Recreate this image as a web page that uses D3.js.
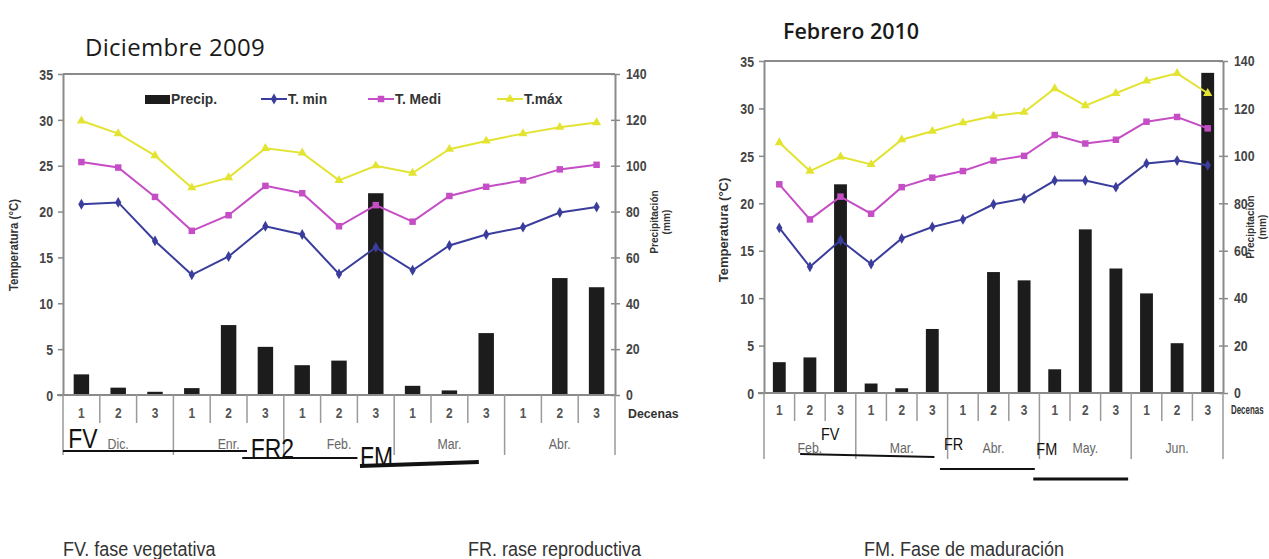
<!DOCTYPE html>
<meta charset="utf-8">
<style>
body { margin: 0; padding: 0; background: #fff; }
svg { display: block; }
.tick text { font-family: "Liberation Sans", Arial, sans-serif; font-weight: bold; fill: #444; font-size: 15px; }
.tick line { stroke: #8a8a8a; stroke-width: 1.5px; }
.domain { stroke: #8a8a8a; stroke-width: 2px; }
.frame { stroke: #8a8a8a; stroke-width: 2px; fill: none; }
.sep { stroke: #9a9a9a; stroke-width: 1.5px; }
.narrow { font-family: "Liberation Sans", Arial, sans-serif; }
.bar { fill: #1c1c1c; }
.serie { fill: none; stroke-width: 2px; }
.phase { stroke: #111; }
</style>
<body>
<script src="https://cdn.jsdelivr.net/npm/d3@7"></script>
<script>
// decenas (3 por mes) y meses
var decenas = ["1", "2", "3", "1", "2", "3", "1", "2", "3", "1", "2", "3", "1", "2", "3"];
var mesesDic = ["Dic.", "Enr.", "Feb.", "Mar.", "Abr."];
var mesesFeb = ["Feb.", "Mar.", "Abr.", "May.", "Jun."];

var tempTicks = [0, 5, 10, 15, 20, 25, 30, 35];
var precipTicks = [0, 20, 40, 60, 80, 100, 120, 140];

// Diciembre 2009
var precipDic = [9, 3.2, 1.4, 3, 30.5, 21, 13, 15, 88, 4, 2, 27, 0, 51, 47];
var tminDic = [20.8, 21.0, 16.8, 13.1, 15.1, 18.4, 17.5, 13.2, 16.1, 13.6, 16.3, 17.5, 18.3, 19.9, 20.5];
var tmedDic = [25.4, 24.8, 21.6, 17.9, 19.6, 22.8, 22.0, 18.4, 20.7, 18.9, 21.7, 22.7, 23.4, 24.6, 25.1];
var tmaxDic = [29.9, 28.5, 26.1, 22.6, 23.7, 26.9, 26.4, 23.4, 25.0, 24.2, 26.8, 27.7, 28.5, 29.2, 29.7];

// Febrero 2010
var precipFeb = [13, 15, 88, 4, 2, 27, 0, 51, 47.5, 10, 69, 52.5, 42, 21, 135];
var tminFeb = [17.4, 13.3, 16.1, 13.6, 16.3, 17.5, 18.3, 19.9, 20.5, 22.4, 22.4, 21.7, 24.2, 24.5, 24.0];
var tmedFeb = [22.0, 18.3, 20.7, 18.9, 21.7, 22.7, 23.4, 24.5, 25.0, 27.2, 26.3, 26.7, 28.6, 29.1, 27.9];
var tmaxFeb = [26.4, 23.4, 24.9, 24.1, 26.7, 27.6, 28.5, 29.2, 29.6, 32.1, 30.3, 31.6, 32.9, 33.7, 31.6];

// fases (en decenas desde el inicio)
var fasesDic = [["FV", 0, 5], ["FR2", 4.87, 8], ["FM", 8.07, 11.3]];
var fasesFeb = [["FV", 1.18, 5.57], ["FR", 5.75, 8.85], ["FM", 8.8, 11.9]];

var notas = ["FV. fase vegetativa", "FR. rase reproductiva", "FM. Fase de maduración"];

var series = [
  {name: "T. min", color: "#3a3d9c", symbol: d3.symbolDiamond, size: 34},
  {name: "T. Medi", color: "#c54dc5", symbol: d3.symbolSquare, size: 42},
  {name: "T.máx", color: "#e3e332", symbol: d3.symbolTriangle, size: 36}
];

var width = 1269, height = 559;
var svg = d3.select("body").append("svg")
    .attr("width", width)
    .attr("height", height);

// squeeze text horizontally (no condensed font available)
function squeeze(sel, k) {
  sel.each(function() {
    var w = this.getComputedTextLength();
    this.setAttribute("textLength", w * k);
    this.setAttribute("lengthAdjust", "spacingAndGlyphs");
  });
}

function drawChart(o) {
  var g = svg.append("g");
  var x = d3.scaleBand().domain(d3.range(decenas.length)).range([o.x0, o.x1]).padding(0);
  var xd = d3.scaleLinear().domain([0, decenas.length]).range([o.x0, o.x1]);
  var yT = d3.scaleLinear().domain([0, 35]).range([o.base, o.top]);
  var yP = d3.scaleLinear().domain([0, 140]).range([o.base, o.top]);
  var bw = x.bandwidth();

  // title
  g.append("text")
      .attr("x", o.titleX).attr("y", o.titleY)
      .attr("font-family", "'Open Sans', sans-serif")
      .attr("font-size", o.titleSize)
      .attr("font-weight", o.titleWeight)
      .attr("letter-spacing", o.titleSpacing)
      .attr("fill", "#1a1a1a")
      .text(o.title);

  // bars
  g.selectAll(".bar").data(o.precip).enter().append("rect")
      .attr("class", "bar")
      .attr("x", function(d, i) { return x(i) + bw * 0.29; })
      .attr("width", bw * 0.42)
      .attr("y", function(d) { return yP(d); })
      .attr("height", function(d) { return o.base - yP(d); });

  // frame top
  g.append("line").attr("class", "frame")
      .attr("x1", o.x0).attr("x2", o.x1).attr("y1", o.top).attr("y2", o.top);

  // axes
  var ax = g.append("g").attr("transform", "translate(" + o.x0 + ",0)")
      .call(d3.axisLeft(yT).tickValues(tempTicks).tickSize(5).tickSizeOuter(0).tickPadding(5));
  ax.selectAll(".tick text").attr("dy", "0.35em").attr("x", -10);
  var ay = g.append("g").attr("transform", "translate(" + o.x1 + ",0)")
      .call(d3.axisRight(yP).tickValues(precipTicks).tickSize(5).tickSizeOuter(0).tickPadding(6));
  ay.selectAll(".tick line").attr("x1", -4);
  squeeze(g.selectAll(".tick text"), 0.82);

  // baseline
  g.append("line").attr("class", "frame")
      .attr("x1", o.x0 - 6).attr("x2", o.x1).attr("y1", o.base).attr("y2", o.base);

  // category table
  d3.range(decenas.length + 1).forEach(function(i) {
    var major = i % 3 === 0;
    g.append("line").attr("class", "sep")
        .attr("x1", xd(i)).attr("x2", xd(i))
        .attr("y1", o.base).attr("y2", major ? o.monthBottom : o.base + 28);
  });
  var dec = g.selectAll(".dec").data(decenas).enter().append("text")
      .attr("class", "narrow")
      .attr("x", function(d, i) { return x(i) + bw / 2; })
      .attr("y", o.decY)
      .attr("dy", "0.35em")
      .attr("text-anchor", "middle")
      .attr("font-size", 14).attr("font-weight", "bold").attr("fill", "#555")
      .text(function(d) { return d; });
  squeeze(dec, 0.85);
  var mes = g.selectAll(".mes").data(o.meses).enter().append("text")
      .attr("class", "narrow")
      .attr("x", function(d, i) { return xd(i * 3 + 1.5); })
      .attr("y", o.mesY)
      .attr("dy", "0.35em")
      .attr("text-anchor", "middle")
      .attr("font-size", 14).attr("fill", "#666")
      .text(function(d) { return d; });
  squeeze(mes, 0.88);
  // "Decenas" squeezed with a transform so that its box really is narrow
  g.append("text").attr("class", "narrow")
      .attr("transform", "translate(" + (o.x1 + o.decDx) + "," + o.decY + ") scale(" + o.decSq + ",1)")
      .attr("dy", "0.35em")
      .attr("font-size", o.decSize).attr("font-weight", "bold").attr("fill", "#333")
      .text("Decenas");

  // axis titles
  var tt = g.append("text").attr("class", "narrow")
      .attr("transform", "translate(" + (o.x0 - o.tDx) + "," + o.yTitleL + ") rotate(-90)")
      .attr("text-anchor", "middle")
      .attr("font-size", 13).attr("font-weight", "bold").attr("fill", "#333")
      .text("Temperatura (°C)");
  squeeze(tt, o.tSq);
  var pt = g.append("text").attr("class", "narrow")
      .attr("transform", "translate(" + (o.x1 + o.pTitleDx) + "," + o.yTitleR + ") rotate(-90)")
      .attr("text-anchor", "middle")
      .attr("font-size", 11.5).attr("font-weight", "bold").attr("fill", "#333");
  var t1 = pt.append("tspan").attr("x", 0).attr("dy", 0).text("Precipitación");
  var t2 = pt.append("tspan").attr("x", 0).attr("dy", "1em").text("(mm)");
  squeeze(t1, 0.88);
  squeeze(t2, 0.88);

  // temperature series
  var line = d3.line().x(function(d, i) { return x(i) + bw / 2; }).y(function(d) { return yT(d); });
  [o.tmin, o.tmed, o.tmax].forEach(function(vals, k) {
    var s = series[k];
    g.append("path").datum(vals).attr("class", "serie")
        .attr("stroke", s.color).attr("d", line);
    g.selectAll(".m" + k).data(vals).enter().append("path")
        .attr("transform", function(d, i) { return "translate(" + (x(i) + bw / 2) + "," + yT(d) + ")"; })
        .attr("d", d3.symbol().type(s.symbol).size(s.size))
        .attr("fill", s.color);
  });

  // legend
  if (o.legend) {
    var lg = g.append("g").attr("class", "narrow").attr("font-size", 15).attr("font-weight", "bold").attr("fill", "#333");
    lg.append("rect").attr("x", o.legend[0]).attr("y", o.legendY - 4).attr("width", 25).attr("height", 9).attr("fill", "#1c1c1c");
    lg.append("text").attr("x", o.legend[0] + 26).attr("y", o.legendY).attr("dy", "0.35em").text("Precip.");
    series.forEach(function(s, k) {
      var lx = o.legend[k + 1];
      lg.append("line").attr("x1", lx).attr("x2", lx + 26).attr("y1", o.legendY).attr("y2", o.legendY)
          .attr("stroke", s.color).attr("stroke-width", 2);
      lg.append("path").attr("transform", "translate(" + (lx + 13) + "," + o.legendY + ")")
          .attr("d", d3.symbol().type(s.symbol).size(s.size)).attr("fill", s.color);
      lg.append("text").attr("x", lx + 27).attr("y", o.legendY).attr("dy", "0.35em").text(s.name);
    });
    squeeze(lg.selectAll("text"), 0.92);
  }

  // fases
  o.fases.forEach(function(f, k) {
    var st = o.faseStyle[k];
    g.append("line").attr("class", "phase")
        .attr("x1", xd(f[1])).attr("x2", xd(f[2]))
        .attr("y1", st.y1).attr("y2", st.y2)
        .attr("stroke-width", st.w);
    var ft = g.append("text").attr("class", "narrow")
        .attr("x", xd(st.lx)).attr("y", st.ly)
        .attr("font-size", o.faseSize).attr("fill", "#111")
        .text(f[0]);
    squeeze(ft, 0.85);
  });
}

drawChart({
  title: "Diciembre 2009", titleX: 85, titleY: 56, titleSize: 24, titleWeight: 400, titleSpacing: 0.3,
  x0: 63, x1: 615, top: 74, base: 395, monthBottom: 455, decY: 413, mesY: 444,
  yTitleL: 245, yTitleR: 222, pTitleDx: 43, decDx: 13, decSize: 13, decSq: 0.95,
  tDx: 45, tSq: 0.88,
  meses: mesesDic, precip: precipDic, tmin: tminDic, tmed: tmedDic, tmax: tmaxDic,
  legend: [145, 261, 368, 497], legendY: 99,
  fases: fasesDic, faseSize: 27,
  faseStyle: [
    {y1: 451, y2: 451, w: 2, lx: 0.14, ly: 448},
    {y1: 458, y2: 458, w: 2, lx: 5.1, ly: 458},
    {y1: 466, y2: 462, w: 4, lx: 8.07, ly: 466}
  ]
});

drawChart({
  title: "Febrero 2010", titleX: 783, titleY: 39, titleSize: 21.5, titleWeight: 600, titleSpacing: 0,
  x0: 764, x1: 1223, top: 61, base: 393, monthBottom: 459, decY: 410, mesY: 448,
  yTitleL: 230, yTitleR: 227, pTitleDx: 31, decDx: 8, decSize: 12, decSq: 0.66,
  tDx: 36, tSq: 1.0,
  meses: mesesFeb, precip: precipFeb, tmin: tminFeb, tmed: tmedFeb, tmax: tmaxFeb,
  legend: null,
  fases: fasesFeb, faseSize: 17,
  faseStyle: [
    {y1: 454, y2: 457, w: 2, lx: 1.86, ly: 440},
    {y1: 469, y2: 469, w: 2, lx: 5.88, ly: 450},
    {y1: 479, y2: 479, w: 3, lx: 8.9, ly: 455}
  ]
});

// notas al pie
var nt = svg.selectAll(".nota").data(notas).enter().append("text")
    .attr("class", "narrow")
    .attr("x", function(d, i) { return [63, 468, 864][i]; })
    .attr("y", 556)
    .attr("font-size", 20).attr("fill", "#333")
    .text(function(d) { return d; });
squeeze(nt, 0.9);
</script>
